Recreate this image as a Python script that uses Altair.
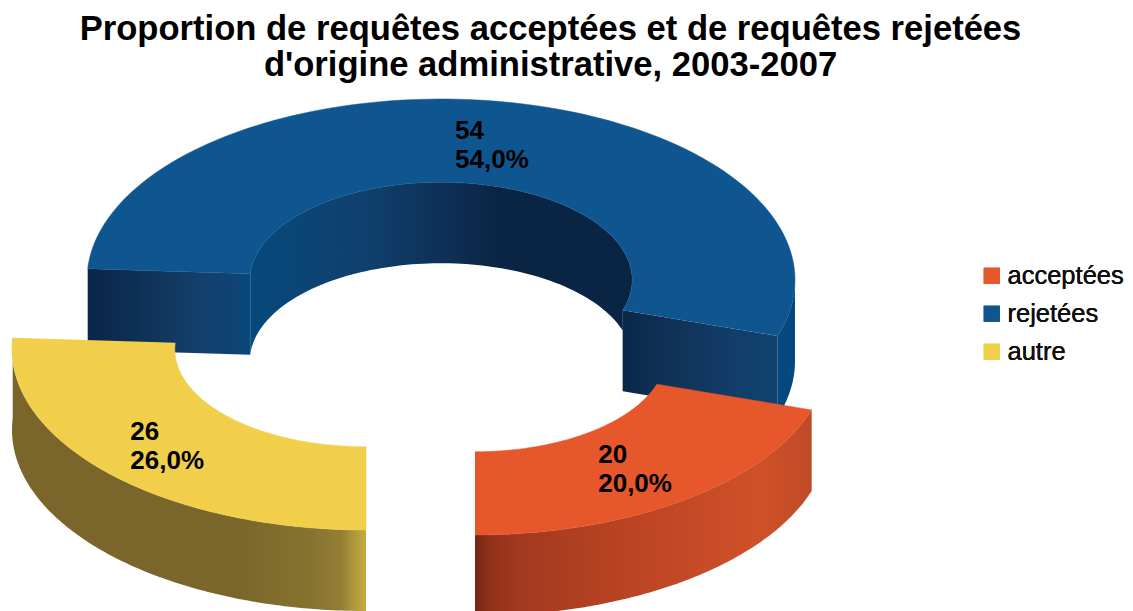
import math
import altair as alt
import pandas as pd

categories = ["acceptées", "rejetées", "autre"]
values = [20, 54, 26]
colors = ["#E6572B", "#0F5690", "#F2CF4B"]
title_lines = ["Proportion de requêtes acceptées et de requêtes rejetées",
               "d'origine administrative, 2003-2007"]

# drawing geometry of the exploded ring (page pixels)
RX, RY, HOLE, DEPTH = 354.0, 181.0, 0.54, 81.0
CENTER = {"acceptées": (475.0, 354.0), "rejetées": (441.0, 280.0), "autre": (366.0, 349.0)}
TOP, LEFT, W, H = 84.0, 8.0, 1117.0, 519.0

stops_orange = [(475, "#722612"), (490, "#8F3219"), (520, "#A3391F"), (640, "#BC4524"), (760, "#CF5128"), (812, "#C04A27")]
stops_yellow = [(10, "#7A662A"), (240, "#7A662A"), (310, "#877330"), (342, "#937F34"), (352, "#AB953A"), (366, "#C6AB3F")]
stops_blue_inner = [(250, "#06497B"), (300, "#0B4576"), (370, "#0F3F6C"), (450, "#0E2E55"), (500, "#0A2543"), (632, "#0A2543")]
stops_blue_left = [(88, "#0A2648"), (125, "#0D2D52"), (200, "#14406C"), (235, "#0F4474"), (250, "#06497E")]
stops_blue_right = [(622, "#0A2848"), (660, "#0F3053"), (730, "#133C69"), (780, "#104470")]
stops_blue_outer = [(778, "#03497D"), (796, "#03497D")]


def pt(cat, ang, ratio=1.0):
    cx, cy = CENTER[cat]
    a = math.radians(ang)
    return cx + RX * ratio * math.sin(a), cy - RY * ratio * math.cos(a)


def arc(cat, a0, a1, ratio=1.0, n=120):
    return [pt(cat, a0 + (a1 - a0) * i / n, ratio) for i in range(n + 1)]


# slices run counter-clockwise from 6 o'clock
spans = {}
ang = 180.0
for c, v in zip(categories, values):
    spans[c] = (ang, ang - v * 3.6)
    ang -= v * 3.6


def poly_frame(pts, **extra):
    return pd.DataFrame([dict(x=x, y=y, seq=i, **extra) for i, (x, y) in enumerate(pts)])


def top_face(cat):
    a0, a1 = spans[cat]
    return arc(cat, a0, a1) + arc(cat, a1, a0, HOLE)


x_enc = alt.X("x:Q", scale=alt.Scale(domain=[LEFT, LEFT + W], nice=False), axis=None)
y_enc = alt.Y("y:Q", scale=alt.Scale(domain=[TOP + 8 + H, TOP + 8], nice=False), axis=None)


def wall(edge, stops):
    """A wall hanging below an edge, filled with a left-to-right gradient."""
    pts = list(edge) + [(x, y + DEPTH) for x, y in reversed(edge)]
    xs = [p[0] for p in pts]
    lo, hi = min(xs), max(xs)
    grad_stops = [alt.GradientStop(offset=min(1, max(0, (x - lo) / (hi - lo))), color=c) for x, c in stops]
    grad = alt.LinearGradient(gradient="linear", stops=grad_stops, x1=0, x2=1, y1=0, y2=0)
    return alt.Chart(poly_frame(pts)).mark_line(clip=True, fill=grad, strokeWidth=0).encode(
        x=x_enc, y=y_enc, order="seq:Q")


fill_scale = alt.Scale(domain=categories, range=colors)


def top_layer(cat, legend):
    return alt.Chart(poly_frame(top_face(cat), categorie=cat)).mark_line(clip=True, strokeWidth=0.5).encode(
        x=x_enc, y=y_enc, order="seq:Q",
        fill=alt.Fill("categorie:N", scale=fill_scale, legend=legend),
        stroke=alt.Stroke("categorie:N", scale=fill_scale, legend=None))


legend = alt.Legend(title=None, orient="none", legendX=971, legendY=171,
                    symbolType="square", symbolSize=256, symbolStrokeWidth=0,
                    labelFont="Liberation Sans", labelFontSize=25.5, labelColor="#111111",
                    labelOffset=3, rowPadding=11, labelLimit=200)

b0, b1 = spans["rejetées"]
o0, o1 = spans["acceptées"]
y0, y1 = spans["autre"]

# data labels at the middle of each slice
label_rows = []
for c, v in zip(categories, values):
    a0, a1 = spans[c]
    mx, my = pt(c, (a0 + a1) / 2, (1 + HOLE) / 2)
    label_rows.append(dict(x=mx - 37, y=my - 4, t=str(v)))
    label_rows.append(dict(x=mx - 37, y=my + 25, t=("%.1f%%" % (v * 100 / sum(values))).replace(".", ",")))

labels = alt.Chart(pd.DataFrame(label_rows)).mark_text(
    align="left", baseline="alphabetic", font="Liberation Sans", fontWeight="bold",
    fontSize=26, color="#000000").encode(x=x_enc, y=y_enc, text="t:N")

chart = alt.layer(
    wall(arc("rejetées", b1, b0, HOLE), stops_blue_inner),
    wall(arc("rejetées", 90, b0, 1.0, 30), stops_blue_outer),
    wall([pt("rejetées", b0, HOLE), pt("rejetées", b0, 1.0)], stops_blue_right),
    wall([pt("rejetées", b1, 1.0), pt("rejetées", b1, HOLE)], stops_blue_left),
    top_layer("rejetées", legend),
    wall(arc("acceptées", o1, o0), stops_orange),
    top_layer("acceptées", legend),
    wall(arc("autre", y1, y0), stops_yellow),
    top_layer("autre", legend),
    labels,
).resolve_scale(fill="independent", stroke="independent").properties(
    width=W, height=H,
    title=alt.TitleParams(text=title_lines, font="Liberation Sans", fontWeight="bold", fontSize=34.6,
                          lineHeight=36, color="#000000", anchor="middle", dx=-16, offset=8),
    padding={"left": 0, "top": TOP, "right": 0, "bottom": 0},
    autosize=alt.AutoSizeParams(type="none"),
).configure_view(stroke=None)

chart.save("out.html", embed_options={"renderer": "svg", "actions": False})
